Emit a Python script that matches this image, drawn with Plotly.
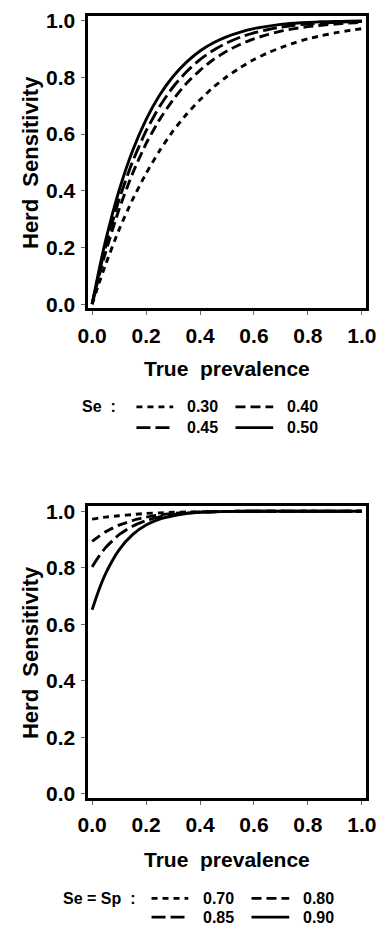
import plotly.graph_objects as go

W, H = 387, 933

# ---------------- data ----------------
prev = [0, 0.025, 0.05, 0.1, 0.15, 0.2, 0.25, 0.3, 0.35, 0.4, 0.45, 0.5,
        0.55, 0.6, 0.65, 0.7, 0.75, 0.8, 0.85, 0.9, 0.95, 1.0]

# top panel: herd sensitivity for different test sensitivities (Se)
se_labels = ["0.30", "0.40", "0.45", "0.50"]
hse_se030 = [0.0, 0.072, 0.140, 0.263, 0.369, 0.461, 0.541, 0.611, 0.670, 0.721, 0.766, 0.803,
             0.835, 0.863, 0.886, 0.905, 0.922, 0.936, 0.947, 0.957, 0.965, 0.972]
hse_se040 = [0.0, 0.096, 0.183, 0.335, 0.461, 0.566, 0.651, 0.721, 0.779, 0.825, 0.863, 0.893,
             0.917, 0.936, 0.951, 0.963, 0.972, 0.979, 0.984, 0.988, 0.992, 0.994]
hse_se045 = [0.0, 0.107, 0.203, 0.369, 0.503, 0.611, 0.697, 0.766, 0.820, 0.863, 0.896, 0.922,
             0.942, 0.957, 0.968, 0.977, 0.984, 0.988, 0.992, 0.994, 0.996, 0.997]
hse_se050 = [0.0, 0.118, 0.224, 0.401, 0.541, 0.651, 0.737, 0.803, 0.854, 0.893, 0.922, 0.944,
             0.960, 0.972, 0.980, 0.987, 0.991, 0.994, 0.996, 0.997, 0.998, 0.999]

# bottom panel: herd sensitivity for Se = Sp
sesp_labels = ["0.70", "0.80", "0.85", "0.90"]
hse_s070 = [0.972, 0.976, 0.979, 0.984, 0.988, 0.992, 0.994, 0.996, 0.997, 0.998, 0.999, 0.999,
            1.0, 1.0, 1.0, 1.0, 1.0, 1.0, 1.0, 1.0, 1.0, 1.0]
hse_s080 = [0.893, 0.911, 0.927, 0.951, 0.967, 0.979, 0.987, 0.992, 0.995, 0.997, 0.998, 0.999,
            0.999, 1.0, 1.0, 1.0, 1.0, 1.0, 1.0, 1.0, 1.0, 1.0]
hse_s085 = [0.803, 0.840, 0.871, 0.917, 0.947, 0.967, 0.980, 0.988, 0.993, 0.996, 0.998, 0.999,
            1.0, 1.0, 1.0, 1.0, 1.0, 1.0, 1.0, 1.0, 1.0, 1.0]
hse_s090 = [0.651, 0.721, 0.779, 0.863, 0.917, 0.951, 0.972, 0.984, 0.992, 0.996, 0.998, 0.999,
            1.0, 1.0, 1.0, 1.0, 1.0, 1.0, 1.0, 1.0, 1.0, 1.0]

tick_vals = [0, 0.2, 0.4, 0.6, 0.8, 1.0]
tick_text = ["0.0", "0.2", "0.4", "0.6", "0.8", "1.0"]

# ---------------- styles ----------------
dashes = ["6px,5px", "10px,5px", "14px,5px", "solid"]
LW = 2.9
FONT = "Liberation Sans, Arial, Helvetica, sans-serif"


def px(x):
    return x / W


def py(y):
    return 1 - y / H


fig = go.Figure()

top_series = [hse_se030, hse_se040, hse_se045, hse_se050]
bot_series = [hse_s070, hse_s080, hse_s085, hse_s090]

for vals, lab, d in zip(top_series, se_labels, dashes):
    fig.add_trace(go.Scatter(x=prev, y=vals, mode="lines", name=lab,
                             line=dict(color="black", width=LW, dash=d, shape="spline", smoothing=0.6),
                             xaxis="x", yaxis="y", showlegend=False))
for vals, lab, d in zip(bot_series, sesp_labels, dashes):
    fig.add_trace(go.Scatter(x=prev, y=vals, mode="lines", name=lab,
                             line=dict(color="black", width=LW, dash=d, shape="spline", smoothing=0.6),
                             xaxis="x2", yaxis="y2", showlegend=False))

xdom = [px(82), px(376)]
axis_common = dict(
    showline=True, linecolor="black", linewidth=2.8, mirror=True,
    ticks="outside", ticklen=4, tickwidth=1, tickcolor="#666",
    tickvals=tick_vals, ticktext=tick_text,
    tickfont=dict(family=FONT, size=21, color="black", weight="bold"),
    showgrid=False, zeroline=False, fixedrange=True,
)
xr = [-0.014, 1.014]
yr = [-0.015, 1.017]

fig.update_layout(
    width=W, height=H,
    margin=dict(l=0, r=0, t=0, b=0),
    paper_bgcolor="white", plot_bgcolor="white",
    showlegend=False,
    xaxis=dict(domain=xdom, range=xr, anchor="y", ticklabelstandoff=2, **axis_common),
    yaxis=dict(domain=[py(306), py(9)], range=yr, anchor="x", ticklabelstandoff=2, **axis_common),
    xaxis2=dict(domain=xdom, range=xr, anchor="y2", ticklabelstandoff=2, **axis_common),
    yaxis2=dict(domain=[py(803), py(507)], range=yr, anchor="x2", ticklabelstandoff=2, **axis_common),
)

ann = []
shapes = []


def text(x, y, s, size, angle=0, xanchor="center"):
    ann.append(dict(x=px(x), y=py(y), xref="paper", yref="paper", text=s, showarrow=False,
                    textangle=angle, xanchor=xanchor, yanchor="middle",
                    font=dict(family=FONT, size=size, color="black", weight="bold")))


# axis titles
text(20, 157.5, "Herd\u00a0\u00a0Sensitivity", 22, angle=-90)
text(20, 655, "Herd\u00a0\u00a0Sensitivity", 22, angle=-90)
text(229, 367, "True\u00a0\u00a0prevalence", 21)
text(229, 865, "True\u00a0\u00a0prevalence", 21)


def legend(title, title_x, row_y, sw_x, txt_x, labels):
    text(title_x, row_y[0], title, 16, xanchor="left")
    for i, (lab, d) in enumerate(zip(labels, dashes)):
        r, c = divmod(i, 2)
        y = row_y[r]
        x0, x1 = sw_x[c]
        shapes.append(dict(type="line", xref="paper", yref="paper",
                           x0=px(x0), x1=px(x1), y0=py(y), y1=py(y),
                           line=dict(color="black", width=LW, dash=d)))
        text(txt_x[c], y, lab, 16, xanchor="left")


legend("Se\u00a0\u00a0:", 73, [406, 427], [(133, 172), (238, 278)], [185, 291], se_labels)
legend("Se\u00a0=\u00a0Sp\u00a0\u00a0:", 53, [905, 924], [(149, 188), (255, 295)], [201, 307], sesp_labels)

fig.update_layout(annotations=ann, shapes=shapes)

fig.write_html("out.html")
